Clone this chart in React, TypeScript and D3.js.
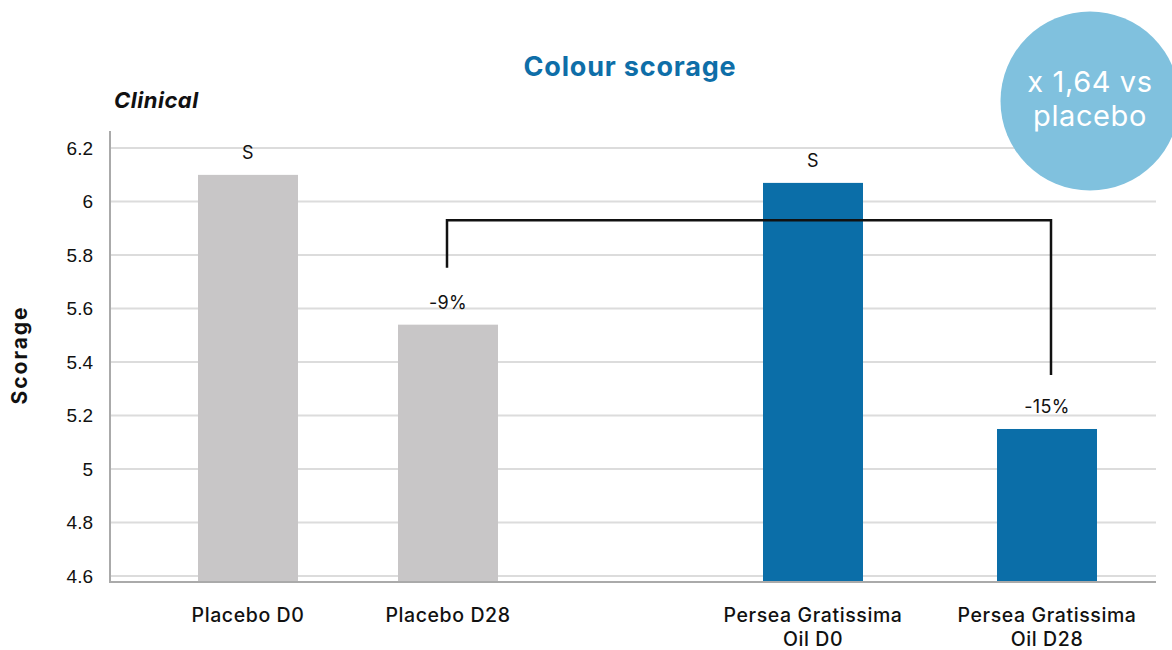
import React from "react";
import * as d3 from "d3";

// Groups and their bar values (clinical colour scorage)
const categories = ["Placebo D0", "Placebo D28", "Persea Gratissima Oil D0", "Persea Gratissima Oil D28"];
const categoryLines = [["Placebo D0"], ["Placebo D28"], ["Persea Gratissima", "Oil D0"], ["Persea Gratissima", "Oil D28"]];
const values = [6.1, 5.54, 6.07, 5.15];
const groups = ["placebo", "placebo", "active", "active"];
const barLabels = ["S", "-9%", "S", "-15%"];
const yTicks = [4.6, 4.8, 5.0, 5.2, 5.4, 5.6, 5.8, 6.0, 6.2];
const bracketLevel = 5.93;
const badgeLines = ["x 1,64 vs", "placebo"];

const W = 1172;
const H = 650;
const FONT = "Inter, 'Open Sans', sans-serif";
const TICK_FONT = "'Liberation Sans', Arial, sans-serif";

// Horizontal slot of each category (second pair sits further right)
const slots = [0, 1, 2.825, 3.995];

export default function App() {
  const left = 110;
  const right = 1156;
  const y = d3.scaleLinear().domain([4.578, 6.264]).range([582, 131]);
  const x = d3.scaleLinear().domain([0, 1]).range([248, 448]);
  const barW = 100;
  const color = (g: string) => (g === "placebo" ? "#C8C6C7" : "#0B6EA8");
  const fmt = (v: number) => (v === Math.round(v) ? String(v) : String(+v.toFixed(1)));

  const bx1 = x(slots[1]) - 1;
  const bx3 = x(slots[3]) + 4;
  const by = y(bracketLevel);

  return (
    <svg width={W} height={H} style={{ position: "absolute", left: 0, top: 0, background: "#fff" }}>
      {/* gridlines */}
      {yTicks.map((t) => (
        <line key={t} x1={left} x2={right} y1={y(t)} y2={y(t)} stroke="#DCDCDC" strokeWidth={2} />
      ))}
      {/* tick labels */}
      {yTicks.map((t) => (
        <text key={"l" + t} x={93} y={y(t)} dy="0.35em" textAnchor="end" fontFamily={TICK_FONT} fontSize={19} fill="#111">
          {fmt(t)}
        </text>
      ))}
      {/* bars */}
      {values.map((v, i) => (
        <rect key={i} x={x(slots[i]) - barW / 2} y={y(v)} width={barW} height={y.range()[0] - y(v)} fill={color(groups[i])} />
      ))}
      {/* axes */}
      <line x1={left} x2={left} y1={y.range()[1]} y2={y.range()[0]} stroke="#AAAAAA" strokeWidth={2} />
      <line x1={left - 1} x2={right} y1={y.range()[0]} y2={y.range()[0]} stroke="#AAAAAA" strokeWidth={2} />
      {/* value annotations */}
      {values.map((v, i) => (
        <text key={"a" + i} x={x(slots[i])} y={y(v) - 16} textAnchor="middle" fontFamily={FONT} fontSize={18} letterSpacing={0.3} fill="#111">
          {barLabels[i]}
        </text>
      ))}
      {/* comparison bracket */}
      <path
        d={`M${bx1},${y(values[1]) - 57} V${by} H${bx3} V${y(values[3]) - 54}`}
        fill="none"
        stroke="#111"
        strokeWidth={2.5}
      />
      {/* category labels */}
      {categoryLines.map((lines, i) =>
        lines.map((ln, j) => (
          <text key={"c" + i + j} x={x(slots[i])} y={622 + j * 24} textAnchor="middle" fontFamily={FONT} fontSize={19.5} fontWeight={500} letterSpacing={0.6} fill="#111">
            {ln}
          </text>
        ))
      )}
      {/* titles */}
      <text x={630} y={76} textAnchor="middle" fontFamily={FONT} fontSize={27} fontWeight={700} letterSpacing={0.8} fill="#0E6EA8">
        Colour scorage
      </text>
      <text x={114} y={108} fontFamily={FONT} fontSize={22} fontWeight={700} fontStyle="italic" letterSpacing={0.5} fill="#111">
        Clinical
      </text>
      <text transform="translate(27,355) rotate(-90)" textAnchor="middle" fontFamily={FONT} fontSize={21} fontWeight={700} letterSpacing={2} fill="#111">
        Scorage
      </text>
      {/* badge */}
      <circle cx={1090} cy={101} r={89.5} fill="#80C1DE" />
      {badgeLines.map((t, i) => (
        <text key={"b" + i} x={1090} y={92 + i * 34} textAnchor="middle" fontFamily={FONT} fontSize={29} letterSpacing={0.6} fill="#fff">
          {t}
        </text>
      ))}
    </svg>
  );
}
